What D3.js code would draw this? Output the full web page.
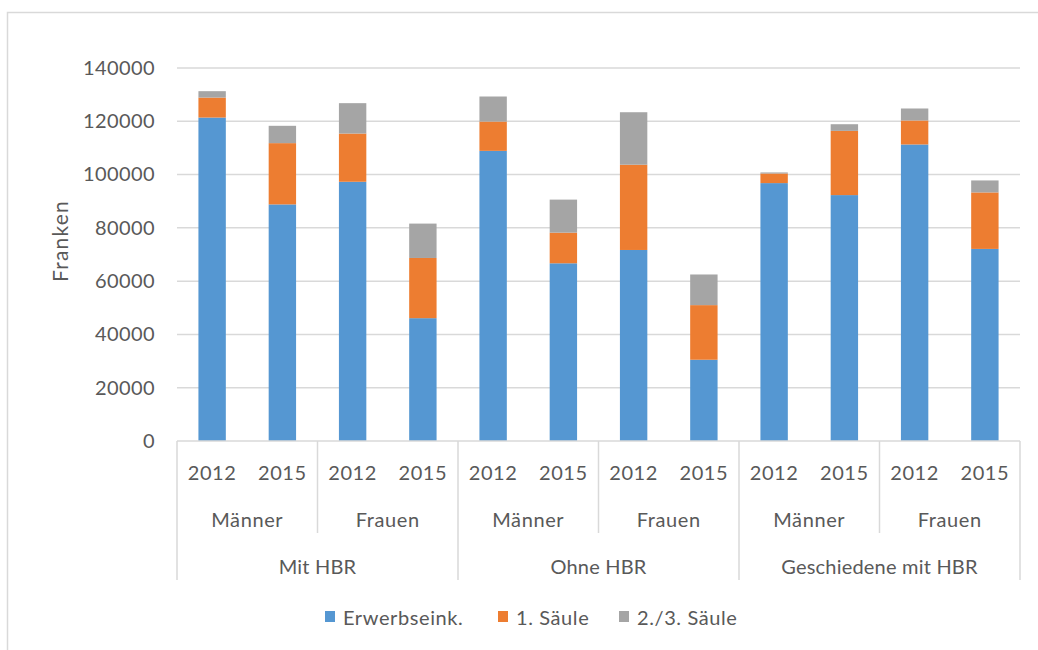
<!DOCTYPE html>
<html>
<head>
<meta charset="utf-8">
<script src="https://cdn.jsdelivr.net/npm/d3@7"></script>
<style>
  html, body { margin: 0; padding: 0; background: #fff; }
  svg { display: block; }
  text { font-family: Lato, "Open Sans", sans-serif; fill: #595959; }
</style>
</head>
<body>
<svg id="chart" width="1038" height="650"></svg>
<script>
// Income composition per group, sex and year (Franken)
const years = ["2012", "2015", "2012", "2015", "2012", "2015", "2012", "2015", "2012", "2015", "2012", "2015"];
const sexes = ["Männer", "Frauen", "Männer", "Frauen", "Männer", "Frauen"];
const groups = ["Mit HBR", "Ohne HBR", "Geschiedene mit HBR"];
const seriesNames = ["Erwerbseink.", "1. Säule", "2./3. Säule"];
const seriesColors = ["#5597D2", "#ED7D31", "#A5A5A5"];

const erwerbseink = [121400, 88800, 97300, 46100, 108900, 66700, 71700, 30500, 96800, 92300, 111300, 72100];
const saeule1     = [7500, 23000, 18100, 22600, 11000, 11500, 32000, 20500, 3600, 24100, 9000, 21200];
const saeule23    = [2400, 6500, 11400, 12900, 9400, 12400, 19700, 11500, 400, 2500, 4500, 4500];

const yTicks = [0, 20000, 40000, 60000, 80000, 100000, 120000, 140000];

const svg = d3.select("#chart");
const plot = { left: 177, right: 1020, top: 68, bottom: 441 };
const fs = 20;

// outer chart frame
svg.append("rect")
  .attr("x", 7.5).attr("y", 12.5)
  .attr("width", 1100).attr("height", 700)
  .attr("fill", "none").attr("stroke", "#d9d9d9").attr("stroke-width", 1.5);

const idx = d3.range(years.length);
const x = d3.scaleBand().domain(idx).range([plot.left, plot.right])
  .paddingInner(0.61).paddingOuter(0.305);
const y = d3.scaleLinear().domain([0, 140000]).range([plot.bottom, plot.top]);

// gridlines
svg.append("g").selectAll("line").data(yTicks.filter(d => d > 0)).join("line")
  .attr("x1", plot.left).attr("x2", plot.right)
  .attr("y1", d => y(d)).attr("y2", d => y(d))
  .attr("stroke", "#d9d9d9").attr("stroke-width", 1.5);

// y-axis labels
const yAxis = svg.append("g").attr("transform", `translate(${plot.left - 22},0)`)
  .call(d3.axisLeft(y).tickValues(yTicks).tickSize(0).tickPadding(0).tickFormat(d3.format("d")));
yAxis.select(".domain").remove();
yAxis.selectAll("text")
  .style("font-family", "Lato, 'Open Sans', sans-serif")
  .attr("font-size", fs).attr("fill", "#595959").attr("letter-spacing", 0.4);

svg.append("text")
  .attr("transform", `translate(68,241) rotate(-90)`)
  .attr("text-anchor", "middle")
  .attr("font-size", 21).attr("letter-spacing", 1.2)
  .text("Franken");

// stacked bars
const rows = idx.map(i => ({ i, "Erwerbseink.": erwerbseink[i], "1. Säule": saeule1[i], "2./3. Säule": saeule23[i] }));
const stacked = d3.stack().keys(seriesNames)(rows);

svg.append("g").selectAll("g").data(stacked).join("g")
  .attr("fill", (d, k) => seriesColors[k])
  .selectAll("rect").data(d => d).join("rect")
  .attr("x", d => x(d.data.i))
  .attr("width", x.bandwidth())
  .attr("y", d => y(d[1]))
  .attr("height", d => y(d[0]) - y(d[1]));

// multi-level category axis
const axisColor = "#d9d9d9";
const axis = svg.append("g").attr("stroke", axisColor).attr("stroke-width", 1.5);
axis.append("line")
  .attr("x1", plot.left).attr("x2", plot.right)
  .attr("y1", plot.bottom).attr("y2", plot.bottom);

const step = x.step();
const edge = i => plot.left + i * step;

// separators between sex subgroups (every 2 bars)
[2, 6, 10].forEach(k => {
  axis.append("line").attr("x1", edge(k)).attr("x2", edge(k))
    .attr("y1", plot.bottom).attr("y2", 533);
});
// separators between groups (every 4 bars) and outer edges
[0, 4, 8, 12].forEach(k => {
  axis.append("line").attr("x1", edge(k)).attr("x2", edge(k))
    .attr("y1", plot.bottom).attr("y2", 580);
});

const center = i => x(i) + x.bandwidth() / 2;

svg.append("g").selectAll("text").data(years).join("text")
  .attr("x", (d, i) => center(i)).attr("y", 472)
  .attr("text-anchor", "middle").attr("dominant-baseline", "central")
  .attr("font-size", fs).attr("letter-spacing", 0.6)
  .text(d => d);

svg.append("g").selectAll("text").data(sexes).join("text")
  .attr("x", (d, k) => (edge(k * 2) + edge(k * 2 + 2)) / 2).attr("y", 519)
  .attr("text-anchor", "middle").attr("dominant-baseline", "central")
  .attr("font-size", fs).attr("letter-spacing", 0.6)
  .text(d => d);

svg.append("g").selectAll("text").data(groups).join("text")
  .attr("x", (d, k) => (edge(k * 4) + edge(k * 4 + 4)) / 2).attr("y", 566)
  .attr("text-anchor", "middle").attr("dominant-baseline", "central")
  .attr("font-size", fs).attr("letter-spacing", 0.2)
  .text(d => d);

// legend
const legendX = [325, 498, 619];
const legend = svg.append("g").selectAll("g").data(seriesNames).join("g")
  .attr("transform", (d, k) => `translate(${legendX[k]},611)`);
legend.append("rect").attr("width", 10).attr("height", 11)
  .attr("fill", (d, k) => seriesColors[k]);
legend.append("text").attr("x", 18).attr("y", 6)
  .attr("dominant-baseline", "central")
  .attr("font-size", fs).attr("letter-spacing", 0.6)
  .text(d => d);
</script>
</body>
</html>
